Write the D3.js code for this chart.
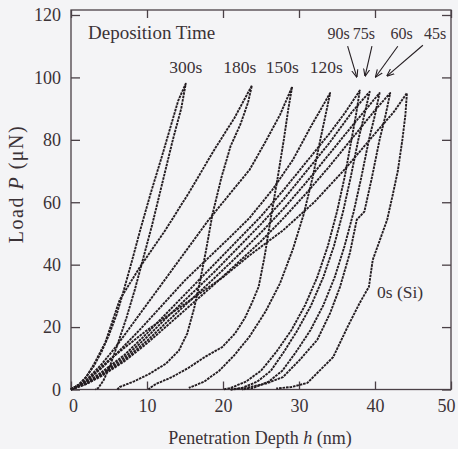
<!DOCTYPE html>
<html><head><meta charset="utf-8">
<script src="https://cdn.jsdelivr.net/npm/d3@7"></script>
<style>
body{margin:0;background:#f4f4f6;}
svg{display:block;}
text{font-family:"Liberation Serif","Times New Roman",serif;fill:#3b3236;}
</style></head><body>
<svg id="c" width="458" height="449"></svg>
<script>
// ---------- data ----------
const xTicks = [0, 10, 20, 30, 40, 50];
const yTicks = [0, 20, 40, 60, 80, 100, 120];
const xMax = 50, yMax = 121.6;

const series = ["300s", "180s", "150s", "120s", "90s", "75s", "60s", "45s", "0s (Si)"];

// loading branches [h (nm), P (uN)]
const load300 = [[0,0],[1,1.5],[2,4],[3,7.5],[4,12],[5,17.5],[6,24],[6.7,29.7],[8,41],[9.1,51],[10.5,63],[12,75],[12.6,80],[14.1,92.5],[15.1,98]];
const load180 = [[0,0],[1,1.5],[2,4],[3,8],[4.5,15],[6.4,28.7],[9,39],[12.4,51],[15.5,63],[18.9,77],[21.5,87],[23.8,97.4]];
const load150 = [[0,0],[2,3],[4,8],[6,14],[9,24],[12,34],[15,44],[18,54],[21,63],[23.5,70.4],[25.5,79],[27.5,88],[29.1,97]];
const load120 = [[0,0],[2,2.6],[4,6.8],[6,11.5],[9,19],[12,27],[15,35],[18,42],[21,49],[23.5,55],[26.5,64],[29.2,73.6],[31.5,84],[34.1,95]];
const load90  = [[0,0],[2,2.2],[4,5.5],[7,11],[10,18],[13,25.5],[16,33],[19,40.5],[22,48],[25,55.5],[28,64],[31,73],[34,82],[36,88.5],[38,95.8]];
const load75  = [[0,0],[2,2],[4,5],[7,10.2],[10,16.8],[13,24],[16,31],[19,38],[22,45.5],[25,53],[28,61],[31,70],[34,79],[37,89],[39.3,95.4]];
const load60  = [[0,0],[2,1.8],[4,4.6],[7,9.5],[10,15.6],[13,22.5],[16,29.2],[19,36],[22,43],[25,50.3],[28,58],[31,66.5],[34,75.5],[37,84.5],[40.6,95]];
const load45  = [[0,0],[2,1.7],[4,4.3],[7,9],[10,14.8],[13,21.2],[16,27.6],[19,34],[22,40.7],[25,47.5],[28,55],[31,63],[34,71.5],[37,80.5],[40,89.5],[42,95]];
const load0   = [[0,0],[2,2.6],[5,9.5],[10,19],[15,27.5],[20,36],[23.5,43],[27.9,51],[32,60],[36,70.5],[40,82],[42.5,89],[44.2,95]];

// unloading branches
const unload300 = [[15.1,98],[14.5,90],[13.4,80],[12.1,67],[10.7,53],[9.5,42],[8.4,32],[7.3,23],[6.2,15],[5.2,8],[4.3,3],[3.6,0.5],[3.2,0]];
const unload180 = [[23.8,97.4],[23.3,92],[22.3,85],[21.0,78],[19.8,68],[18.6,56],[17.8,45],[17.0,35],[16.2,26],[15.3,18],[14.2,12.5],[12.5,8.3],[10.3,5.0],[8.3,2.6],[6.4,0.8],[6.1,0]];
const unload150 = [[29.1,97],[28.6,90],[28.0,80],[27.2,68],[26.3,55],[25.5,43],[24.7,33],[23.8,27.7],[22.9,23],[21.6,18],[19.9,13.6],[17.6,10.4],[15.5,7],[13.3,4],[11.2,1.8],[10.4,0.5],[10.2,0]];
const unload120 = [[34.1,95],[33.5,88],[32.8,80],[31.8,68],[30.6,56],[29.2,45],[27.5,34],[25.6,25],[23.5,17],[21.5,11],[19.5,6],[17.5,2.5],[15.5,0.5]];
const unload90  = [[38,95.8],[37.5,88],[36.9,80],[36.0,68],[35.0,57],[33.8,46],[32.4,36],[30.8,27],[29.0,19],[27.0,12],[25.0,6],[23,2.5],[21,0.5],[20,0]];
const unload75  = [[39.3,95.4],[38.6,88],[37.8,80],[36.8,68],[35.8,57],[34.6,46],[33.2,36],[31.6,27],[29.8,19],[28,12],[26.3,6],[24.5,2.5],[22.5,0.5],[21,0]];
const unload60  = [[40.6,95],[40,88],[39.2,80],[38.2,68],[37.2,57],[36,46],[34.7,36],[33.2,27],[31.5,19],[29.6,12],[27.8,6],[26,2.5],[24,0.5],[22.5,0]];
const unload45  = [[42,95],[41.4,88],[40.6,80],[39.6,68],[38.6,57],[37.6,54.4],[36.7,43.8],[35.4,32.9],[34.1,24.5],[32.4,15.9],[30.1,9.5],[27.9,4],[25.8,2],[23,0.5],[21,0]];
const unload0   = [[44.2,95],[44.0,88],[43.6,80],[43,70],[42.3,62],[41.6,54.4],[39.7,41.5],[39.2,32.9],[38,27.8],[36.4,20.1],[34.5,10.4],[32.4,5.3],[31.1,2.1],[29,0.8],[27,0.3]];

const loads   = [load300, load180, load150, load120, load90, load75, load60, load45, load0];
const unloads = [unload300, unload180, unload150, unload120, unload90, unload75, unload60, unload45, unload0];

// label anchor positions [h, P]
const labelTexts = ["300s", "180s", "150s", "120s"];
const labelPos   = [[15.1,101.5],[22.2,101.5],[27.8,101.5],[33.6,101.5]];
const arrowTexts = ["90s", "75s", "60s", "45s"];
const arrowTextPos = [[35.2,112.4],[38.55,112.4],[43.5,112.4],[47.9,112.4]];
const arrowFrom = [[36.4,110.0],[39.6,110.0],[43.0,110.0],[46.3,110.3]];
const arrowTo   = [[37.6,100.2],[38.7,100.5],[40.1,100.2],[41.6,100.5]];

// ---------- chart ----------
const svg = d3.select("#c");
const L = 71, R = 451, T = 10, B = 389.5;
const x = d3.scaleLinear().domain([0, xMax]).range([L, R]);
const y = d3.scaleLinear().domain([0, yMax]).range([B, T]);
const ink = "#241d21", frameCol = "#4a4046";

svg.append("rect").attr("width",458).attr("height",449).attr("fill","#f4f4f6");

// frame
svg.append("rect").attr("x",L).attr("y",T).attr("width",R-L).attr("height",B-T)
  .attr("fill","none").attr("stroke",frameCol).attr("stroke-width",1.3);

function styleAxis(g){
  g.select(".domain").remove();
  g.selectAll(".tick line").attr("stroke",frameCol).attr("stroke-width",1.3);
  g.selectAll(".tick text").style("font-size","18px").attr("fill","#3b3236")
    .style("font-family","'Liberation Serif',serif");
}
const gx = svg.append("g").attr("transform",`translate(0,${B})`)
  .call(d3.axisBottom(x).tickValues(xTicks).tickSizeInner(-8).tickSizeOuter(0).tickPadding(10).tickFormat(d3.format("d")))
  .call(styleAxis);
gx.selectAll(".tick text").attr("dx", d => d === 50 ? -5 : (d === 0 ? 2 : 0));
svg.append("g").attr("transform",`translate(0,${T})`)
  .call(d3.axisTop(x).tickValues(xTicks).tickSizeInner(-8).tickSizeOuter(0).tickFormat(""))
  .call(styleAxis);
svg.append("g").attr("transform",`translate(${L},0)`)
  .call(d3.axisLeft(y).tickValues(yTicks).tickSizeInner(-9).tickSizeOuter(0).tickPadding(10).tickFormat(d3.format("d")))
  .call(styleAxis);
svg.append("g").attr("transform",`translate(${R},0)`)
  .call(d3.axisRight(y).tickValues(yTicks).tickSizeInner(-9).tickSizeOuter(0).tickFormat(""))
  .call(styleAxis);

// curves
const line = d3.line().x(d=>x(d[0])).y(d=>y(d[1]));
const gC = svg.append("g");
series.forEach((s,i)=>{
  const pts = loads[i].concat(unloads[i].slice(1));
  gC.append("path").attr("d",line(pts)).attr("fill","none")
    .attr("stroke",ink).attr("stroke-width",1.9)
    .attr("stroke-dasharray","2.6,0.9").attr("stroke-linejoin","round");
});

// annotation text
svg.append("text").attr("x",88).attr("y",39).style("font-size","19px").text("Deposition Time");
labelTexts.forEach((t,i)=>{
  svg.append("text").attr("x",x(labelPos[i][0])).attr("y",y(labelPos[i][1]))
    .attr("text-anchor","middle").style("font-size","17.5px").text(t);
});
arrowTexts.forEach((t,i)=>{
  svg.append("text").attr("x",x(arrowTextPos[i][0])).attr("y",y(arrowTextPos[i][1]))
    .attr("text-anchor","middle").style("font-size","16px").text(t);
});
svg.append("defs").append("marker").attr("id","ah").attr("viewBox","0 0 10 10")
  .attr("refX",9).attr("refY",5).attr("markerWidth",7).attr("markerHeight",7)
  .attr("orient","auto").append("path").attr("d","M0,1 L10,5 L0,9").attr("fill","none")
  .attr("stroke",ink).attr("stroke-width",1.4);
arrowFrom.forEach((f,i)=>{
  svg.append("line").attr("x1",x(f[0])).attr("y1",y(f[1]))
    .attr("x2",x(arrowTo[i][0])).attr("y2",y(arrowTo[i][1]))
    .attr("stroke",ink).attr("stroke-width",1.1).attr("marker-end","url(#ah)");
});
svg.append("text").attr("x",x(43.3)).attr("y",y(29.2)).attr("text-anchor","middle")
  .style("font-size","17.5px").text("0s (Si)");

// axis titles
const xt = svg.append("text").attr("x",260).attr("y",444).attr("text-anchor","middle").style("font-size","18px");
xt.append("tspan").text("Penetration Depth ");
xt.append("tspan").style("font-style","italic").text("h");
xt.append("tspan").text(" (nm)");
const yt = svg.append("text").attr("transform","translate(23,184) rotate(-90)").attr("text-anchor","middle")
  .style("font-size","20px").style("letter-spacing","1.5px");
yt.append("tspan").text("Load ");
yt.append("tspan").style("font-style","italic").text("P");
yt.append("tspan").text(" (\u03bcN)");
</script>
</body></html>
